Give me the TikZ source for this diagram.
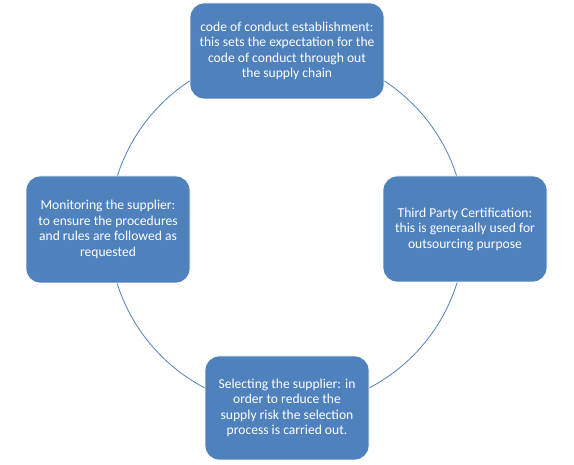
\documentclass[tikz,border=0pt]{standalone}
\usepackage{fontspec}
\setmainfont{Carlito}
\usepackage{xcolor}
\usepackage{tikz}

\definecolor{cycleblue}{HTML}{4F81BD}

\tikzset{
    stagebox/.style={rectangle, rounded corners=14pt, fill=cycleblue, draw=white, line width=0.8pt,
        text=white, align=center, inner sep=0pt,
        font=\fontsize{13.6}{15.5}\selectfont},
}

\begin{document}
\begin{tikzpicture}[x=1pt, y=-1pt]
    \useasboundingbox (0,0) rectangle (574,465);

    % Cycle ring behind the boxes
    \coordinate (hub) at (287,230);
    \draw[cycleblue, line width=0.8pt] (hub) circle (178pt);

    % Stages
    \node[stagebox, minimum width=194pt, minimum height=96pt] (conduct) at (287,51)
        {code of conduct establishment:\\this sets the expectation for the\\code of conduct through out\\the supply chain};
    \node[stagebox, minimum width=164pt, minimum height=106pt] (thirdparty) at (465,229)
        {Third Party Certification:\\this is generaally used for\\outsourcing purpose};
    \node[stagebox, minimum width=164pt, minimum height=104pt] (selecting) at (287,408)
        {Selecting the supplier: in\\order to reduce the\\supply risk the selection\\process is carried out.};
    \node[stagebox, minimum width=164pt, minimum height=107pt] (monitoring) at (108,229.5)
        {Monitoring the supplier:\\to ensure the procedures\\and rules are followed as\\requested};
\end{tikzpicture}
\end{document}
